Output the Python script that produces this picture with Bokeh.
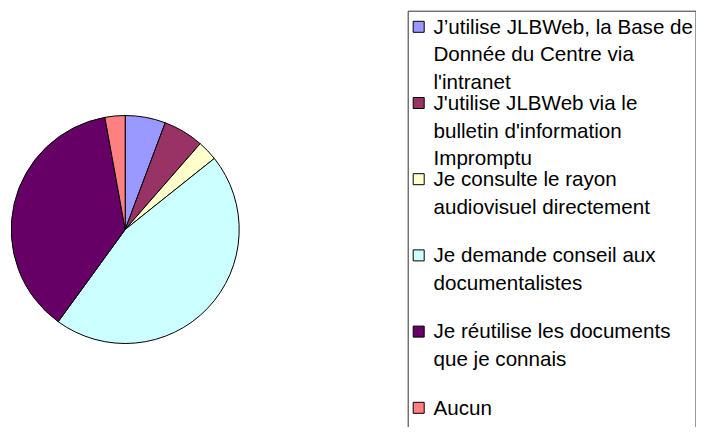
import math
from bokeh.plotting import figure
from bokeh.models import Range1d, ColumnDataSource
from bokeh.core.properties import value
from bokeh.embed import file_html
from bokeh.resources import INLINE

# ---- data ----
categories = [
    "J’utilise JLBWeb, la Base de Donnée du Centre via l'intranet",
    "J'utilise JLBWeb via le bulletin d'information Impromptu",
    "Je consulte le rayon audiovisuel directement",
    "Je demande conseil aux documentalistes",
    "Je réutilise les documents que je connais",
    "Aucun",
]
counts = [2, 2, 1, 16, 13, 1]
colors = ["#9999FF", "#993366", "#FFFFCC", "#CCFFFF", "#660066", "#FF8080"]
legend_lines = [
    ["J’utilise JLBWeb, la Base de", "Donnée du Centre via", "l'intranet"],
    ["J'utilise JLBWeb via le", "bulletin d'information", "Impromptu"],
    ["Je consulte le rayon", "audiovisuel directement"],
    ["Je demande conseil aux", "documentalistes"],
    ["Je réutilise les documents", "que je connais"],
    ["Aucun"],
]

W, H = 696, 427
p = figure(width=W, height=H, output_backend="svg", toolbar_location=None,
           x_range=Range1d(0, W), y_range=Range1d(0, H), min_border=0)
p.axis.visible = False
p.grid.visible = False
p.outline_line_color = None
p.background_fill_color = "white"
p.border_fill_color = "white"

def Y(y_img):
    return H - y_img

def X(x_img):
    return x_img

# ---- pie ----
total = sum(counts)
starts, ends = [], []
cum = 0.0
for c in counts:
    a0 = math.pi / 2 - 2 * math.pi * cum / total
    cum += c
    a1 = math.pi / 2 - 2 * math.pi * cum / total
    starts.append(a0)
    ends.append(a1)
src = ColumnDataSource(dict(start=starts, end=ends, color=colors))
p.wedge(x=X(124.7), y=Y(229), radius=114, start_angle="start", end_angle="end",
        direction="clock", fill_color="color", line_color="black", line_width=1,
        source=src)

# ---- legend box ----
right = min(701.7, W - 0.5)
p.line(x=[X(407.7), X(407.7), X(right), X(right)],
       y=[Y(445), Y(10.7), Y(10.7), Y(445)], line_color="#333333", line_width=1)

tx, ty, tt = [], [], []
mx, my = [], []
for i, lines in enumerate(legend_lines):
    y0 = 25.5 + i * 76.2
    mx.append(X(418.2))
    my.append(Y(y0 + 0.8))
    for j, t in enumerate(lines):
        tx.append(X(433))
        ty.append(Y(y0 + j * 27.8))
        tt.append(t)
p.rect(x=mx, y=my, width=11, height=11, fill_color=colors, line_color="black", line_width=1)
p.text(x=tx, y=ty, text=tt, text_font=value("Liberation Sans"), text_font_size="20.6px",
       text_baseline="middle", text_align="left", text_color="black")

open("out.html", "w").write(file_html(p, INLINE))
